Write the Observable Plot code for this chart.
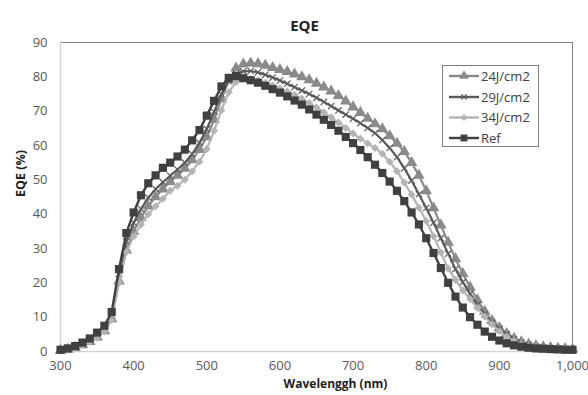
<!DOCTYPE html>
<html><head><meta charset="utf-8">
<script src="https://cdn.jsdelivr.net/npm/d3@7"></script>
<script src="https://cdn.jsdelivr.net/npm/@observablehq/plot@0.6"></script>
<style>
body{margin:0;background:#fff;}
#wrap{position:relative;width:588px;height:395px;}
#legend{position:absolute;left:442px;top:65px;width:97px;height:82px;box-sizing:border-box;border:1px solid #7f7f7f;background:#fff;}
</style></head><body><div id="wrap"><div id="chart"></div><div id="legend"></div></div>
<script>
const wavelengths = [300,310,320,330,340,350,360,370,380,390,400,410,420,430,440,450,460,470,480,490,500,510,520,530,540,550,560,570,580,590,600,610,620,630,640,650,660,670,680,690,700,710,720,730,740,750,760,770,780,790,800,810,820,830,840,850,860,870,880,890,900,910,920,930,940,950,960,970,980,990,1000];

const eqe24 = [0.3,0.6,1.1,1.9,2.9,4.2,6,9.5,20.5,29.5,
  35,39,42.3,45,47.3,49.5,51.3,53.3,55.8,58.8,
  62.5,67.5,73.5,79,82.5,83.7,84,83.8,83.3,82.7,
  82.1,81.5,80.8,80,79.1,78.1,77,75.8,74.5,72.9,
  71.2,69.6,67.9,66.3,64.8,62.8,60.6,58.2,55,51.3,
  46.8,41.8,36.8,31.8,27,22.7,18.7,15,11.7,9,
  6.9,5.2,3.8,2.8,2.1,1.6,1.3,1.1,0.9,0.8,0.7];

const eqe29 = [0.4,0.7,1.3,2.2,3.3,4.8,6.7,10.5,22.5,32,
  37.5,41.5,44.8,47.3,49.3,51.2,53,55,57.5,60.8,
  64.8,69.8,75,78.8,80.9,81.6,81.7,81.3,80.6,79.8,
  78.9,78,77,76,75,73.9,72.7,71.5,70.2,69,
  67.8,66.5,65.1,63.6,61.6,59.3,56.6,53.4,49.8,45.8,
  41.8,37.5,33,28.5,24,20.2,16.8,13.6,10.8,8.4,
  6.6,5,3.6,2.6,1.9,1.4,1.1,0.9,0.8,0.7,0.6];

const eqe34 = [0.3,0.5,1,1.8,2.8,4,5.8,9.2,20,29,
  33.5,37,40,42.3,44.5,46.8,48.3,50,52.5,55.3,
  59,64.3,70.3,75.5,78.5,79.5,79.4,79,78.3,77.5,
  76.6,75.7,74.7,73.6,72.4,71.1,69.7,68.2,66.7,65.1,
  63.5,62,60.6,59.3,57.6,55.3,52.5,49.2,45.7,41.9,
  38,33.6,28.8,24.2,20.8,17.8,15.3,12.7,10.2,7.9,
  5.9,4.3,3.1,2.2,1.6,1.3,1,0.9,0.8,0.7,0.6];

const eqeRef = [0.5,0.9,1.6,2.6,3.8,5.5,7.5,11.5,24,34.5,
  40.5,45.5,49,51.3,53.5,55,56.8,58.8,61.5,64.5,
  68.7,73,77.2,79.7,80.2,79.6,79,78.3,77.4,76.4,
  75.4,74.3,73.1,71.9,70.5,69,67.5,66,64.3,62.5,
  60.7,58.7,56.6,54.4,52,49.5,46.8,43.8,40.5,37,
  33,28.7,24.3,20,16,12.8,10,7.8,5.8,4.3,
  3.2,2.4,1.8,1.4,1.1,0.9,0.8,0.7,0.6,0.5,0.5];

const seriesNames = ["24J/cm2","29J/cm2","34J/cm2","Ref"];
const seriesValues = [eqe24, eqe29, eqe34, eqeRef];
const colors = ["#8a8a8a","#5a5a5a","#b4b4b4","#404040"];
const symbols = ["triangle","times","diamond2","square"];
const radii = [4.3, 3.0, 3.6, 4.6];
const xTicks = [300,400,500,600,700,800,900,1000];
const yTicks = [0,10,20,30,40,50,60,70,80,90];

const rows = seriesNames.map((name, i) =>
  wavelengths.map((wl, j) => ({series: name, wl, v: seriesValues[i][j]})));

const font = "Open Sans";
const seriesMarks = [];
rows.forEach((data, i) => {
  seriesMarks.push(Plot.line(data, {x: "wl", y: "v", stroke: colors[i], strokeWidth: i === 3 ? 2.4 : 2.2}));
  if (symbols[i] === "times") {
    seriesMarks.push(Plot.dot(data, {x: "wl", y: "v", symbol: "times", r: radii[i], stroke: colors[i], strokeWidth: 1.2, fill: "none"}));
  } else {
    seriesMarks.push(Plot.dot(data, {x: "wl", y: "v", symbol: symbols[i], r: radii[i], fill: colors[i], stroke: "none"}));
  }
});

const chart = Plot.plot({
  width: 588, height: 395,
  marginLeft: 60, marginRight: 16, marginTop: 42, marginBottom: 44,
  style: {fontFamily: font, fontSize: "13px", color: "#595959", background: "#fff"},
  x: {domain: [300, 1000], ticks: xTicks, tickFormat: d3.format(","), tickSize: 0, tickPadding: 9, label: null},
  y: {domain: [0, 90], ticks: yTicks, tickSize: 0, tickPadding: 13, label: null},
  marks: [
    Plot.frame({stroke: "#808080", strokeWidth: 1}),
    Plot.ruleY([0], {stroke: "#d4d4d4", strokeWidth: 1.5}),
    Plot.ruleX([300], {stroke: "#d4d4d4", strokeWidth: 1.5}),
    ...seriesMarks,
    Plot.text(["EQE"], {frameAnchor: "top", dx: -12, dy: -22, fontWeight: "bold", fontSize: 15, fill: "#222"}),
    Plot.text(["Wavelenggh (nm)"], {frameAnchor: "bottom", dx: 19, dy: 36, fontWeight: "bold", fontSize: 12, fill: "#222"}),
    Plot.text(["EQE (%)"], {frameAnchor: "left", dx: -40, rotate: -90, fontWeight: "bold", fontSize: 12.5, fill: "#222"})
  ]
});
document.getElementById("chart").appendChild(chart);

// legend
const leg = d3.select("#legend").append("svg").attr("width", 95).attr("height", 80)
  .style("position", "absolute").style("left", "0px").style("top", "0px");
const rowY = [10, 31, 51.5, 72];
const symMap = {triangle: d3.symbolTriangle, times: d3.symbolTimes, diamond2: d3.symbolDiamond2, square: d3.symbolSquare};
seriesNames.forEach((name, i) => {
  const g = leg.append("g").attr("transform", `translate(0,${rowY[i]})`);
  g.append("line").attr("x1", 6).attr("x2", 36).attr("y1", 0).attr("y2", 0)
    .attr("stroke", colors[i]).attr("stroke-width", 2.4);
  const rr = radii[i] * 0.85;
  const p = g.append("path").attr("transform", "translate(21,0)")
    .attr("d", d3.symbol(symMap[symbols[i]], Math.PI * rr * rr)());
  if (symbols[i] === "times") p.attr("fill", "none").attr("stroke", colors[i]).attr("stroke-width", 1.2);
  else p.attr("fill", colors[i]);
  g.append("text").attr("x", 38).attr("y", 0).attr("dy", "0.35em")
    .attr("font-family", font).attr("font-size", 13).attr("fill", "#404040").text(name);
});
</script></body></html>
